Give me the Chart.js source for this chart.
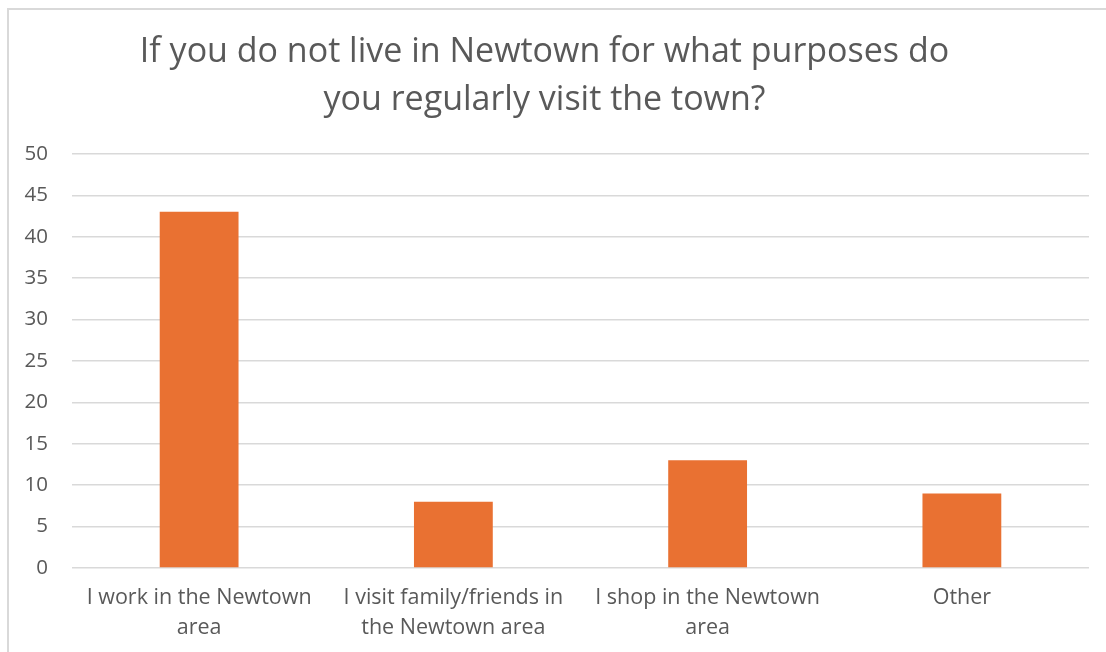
<!DOCTYPE html>
<html>
<head>
<meta charset="utf-8">
<script src="https://cdn.jsdelivr.net/npm/chart.js@4/dist/chart.umd.min.js"></script>
<style>
  html, body { margin: 0; padding: 0; background: #fff; }
  #wrap { position: relative; width: 1106px; height: 652px; overflow: hidden; }
  #frame { position: absolute; left: 7px; top: 8px; width: 1200px; height: 700px;
           border-left: 2px solid #d9d9d9; border-top: 2px solid #d9d9d9; }
  #chart { position: absolute; left: 0; top: 0; }
</style>
</head>
<body>
<div id="wrap">
  <div id="frame"></div>
  <canvas id="chart" width="1106" height="652"></canvas>
</div>
<script>
// Survey answers
const titleLines = ['If you do not live in Newtown for what purposes do', 'you regularly visit the town?'];
const categories = [
  ['I work in the Newtown', 'area'],
  ['I visit family/friends in', 'the Newtown area'],
  ['I shop in the Newtown', 'area'],
  'Other'
];
const responses = [43, 8, 13, 9];
const yMax = 50;
const yStep = 5;

const textColor = '#595959';
const gridColor = '#d9d9d9';
const barColor = '#E97132';
const fontFamily = '"Open Sans", sans-serif';

new Chart(document.getElementById('chart'), {
  type: 'bar',
  data: {
    labels: categories,
    datasets: [{
      data: responses,
      backgroundColor: barColor,
      borderWidth: 0,
      barPercentage: 0.31,
      categoryPercentage: 1
    }]
  },
  options: {
    responsive: false,
    animation: false,
    layout: { padding: { left: 0, right: 17, top: 0, bottom: 0 } },
    plugins: {
      legend: { display: false },
      tooltip: { enabled: false },
      title: {
        display: true,
        text: titleLines,
        color: textColor,
        font: { family: fontFamily, size: 34, weight: 'normal', lineHeight: 1.41 },
        padding: { top: 28, bottom: 30 }
      }
    },
    scales: {
      x: {
        grid: { display: false, drawTicks: false },
        border: { display: false },
        ticks: {
          color: textColor,
          font: { family: fontFamily, size: 21.5, lineHeight: 1.4 },
          padding: 15,
          maxRotation: 0,
          autoSkip: false
        },
        afterFit(scale) { scale.height = 84; }
      },
      y: {
        min: 0,
        max: yMax,
        grid: { color: gridColor, lineWidth: 1.5, drawTicks: false },
        border: { display: false },
        ticks: {
          stepSize: yStep,
          color: textColor,
          font: { family: fontFamily, size: 20.5 },
          padding: 24
        },
        afterFit(scale) { scale.width = 72; }
      }
    }
  }
});
</script>
</body>
</html>
